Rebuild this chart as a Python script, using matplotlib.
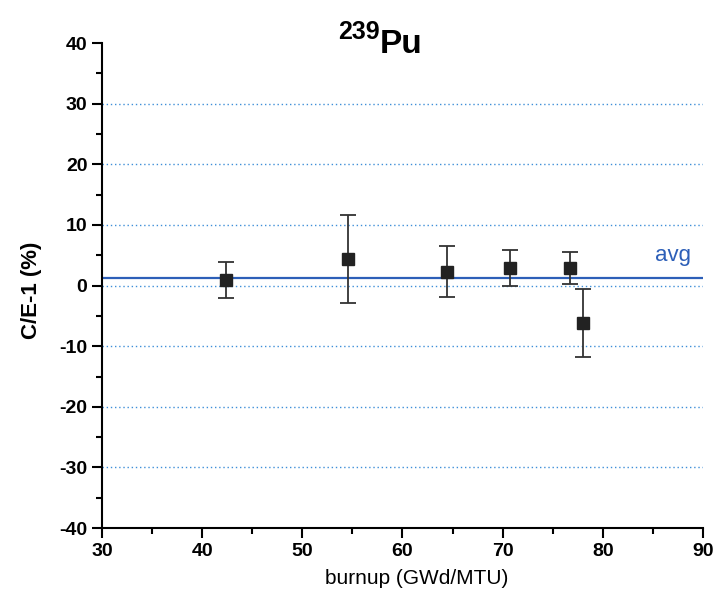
import matplotlib.pyplot as plt
from matplotlib.ticker import MultipleLocator

plt.rcParams['font.family'] = ['Liberation Sans', 'DejaVu Sans']
plt.rcParams['axes.unicode_minus'] = False

burnup = [42.4, 54.6, 64.4, 70.7, 76.7, 78.0]
ce = [0.9, 4.4, 2.3, 2.9, 2.9, -6.2]
err = [3.0, 7.3, 4.2, 3.0, 2.6, 5.6]
avg = 1.2
grid_levels = [-30, -20, -10, 0, 10, 20, 30]

fig = plt.figure(figsize=(7.13, 6.07), dpi=100)
ax = fig.add_axes([0.143, 0.130, 0.843, 0.799])

for g in grid_levels:
    ax.axhline(g, color='#3f8fd8', ls=(0, (1, 2)), lw=1.0, zorder=1)
ax.axhline(avg, color='#2d5fb8', lw=1.6, zorder=2)
ax.text(88.8, avg + 2.0, 'avg', color='#2d5fb8', fontsize=16, ha='right', va='bottom')

ax.errorbar(burnup, ce, yerr=err, fmt='s', color='#222222', ecolor='#333333',
            ms=8, elinewidth=1.3, capsize=5.5, capthick=1.3, zorder=3)

ax.set_xlim(30, 90)
ax.set_ylim(-40, 40)
ax.xaxis.set_major_locator(MultipleLocator(10))
ax.xaxis.set_minor_locator(MultipleLocator(5))
ax.yaxis.set_major_locator(MultipleLocator(10))
ax.yaxis.set_minor_locator(MultipleLocator(5))
ax.spines['top'].set_visible(False)
ax.spines['right'].set_visible(False)
for s in ['left', 'bottom']:
    ax.spines[s].set_linewidth(1.5)
ax.tick_params(which='major', direction='out', length=7, width=1.5, labelsize=14)
ax.tick_params(which='minor', direction='out', length=4, width=1.5)
for lbl in ax.get_xticklabels() + ax.get_yticklabels():
    lbl.set_fontweight('bold')

ax.set_xlabel('burnup (GWd/MTU)', fontsize=15)
ax.xaxis.set_label_coords(0.524, -0.085)
ax.set_ylabel('C/E-1 (%)', fontsize=16, fontweight='bold')
ax.yaxis.set_label_coords(-0.1, 0.49)

fig.text(0.533, 0.936, '239', fontsize=18, fontweight='bold', ha='right', va='baseline')
fig.text(0.533, 0.912, 'Pu', fontsize=24, fontweight='bold', ha='left', va='baseline')

fig.savefig('out.png', dpi=100)
